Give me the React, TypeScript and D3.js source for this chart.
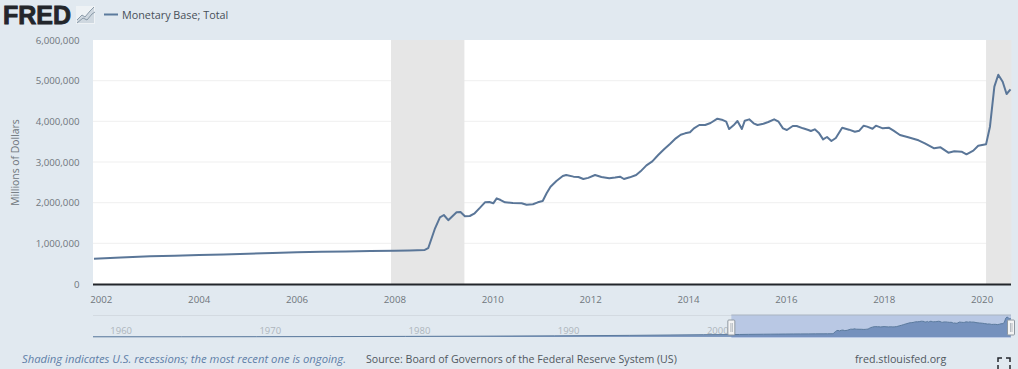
import React from "react";
import * as d3 from "d3";

const W = 1018, H = 369;
const FONT = "'Open Sans', sans-serif";

// decimal-year dates and values (millions of dollars)
const earlyDates = [1959.05, 1965, 1970, 1975, 1980, 1985, 1990, 1995, 2000];
const earlyValues = [50000, 55000, 75000, 105000, 160000, 215000, 290000, 420000, 590000];

const dates = [
  2001.85, 2002.4, 2003.0, 2003.5, 2004.0, 2004.5, 2005.0, 2005.5, 2006.0, 2006.5, 2007.0, 2007.5, 2008.0, 2008.3, 2008.61,
  2008.68, 2008.82, 2008.92, 2009.0, 2009.09, 2009.26, 2009.34, 2009.43, 2009.53, 2009.62, 2009.74, 2009.84, 2009.93, 2010.01,
  2010.08, 2010.16, 2010.25, 2010.41, 2010.59, 2010.69, 2010.82, 2010.92, 2011.02, 2011.1, 2011.18, 2011.3, 2011.43, 2011.5,
  2011.65, 2011.75, 2011.85, 2011.95, 2012.09, 2012.22, 2012.38, 2012.5, 2012.6, 2012.68, 2012.8, 2012.93, 2013.02, 2013.14,
  2013.26, 2013.38, 2013.5, 2013.62, 2013.74, 2013.84, 2013.93, 2014.03, 2014.11, 2014.22, 2014.34, 2014.45, 2014.59, 2014.68,
  2014.77, 2014.83, 2014.92, 2015.0, 2015.09, 2015.15, 2015.24, 2015.33, 2015.41, 2015.53, 2015.63, 2015.75, 2015.84, 2015.93,
  2016.01, 2016.13, 2016.21, 2016.34, 2016.45, 2016.5, 2016.58, 2016.67, 2016.75, 2016.83, 2016.92, 2017.01, 2017.14, 2017.28,
  2017.4, 2017.49, 2017.58, 2017.65, 2017.76, 2017.83, 2017.97, 2018.09, 2018.19, 2018.32, 2018.49, 2018.7, 2018.83, 2019.02,
  2019.15, 2019.31, 2019.43, 2019.58, 2019.68, 2019.82, 2019.92, 2020.08, 2020.16, 2020.25, 2020.33, 2020.42, 2020.5, 2020.58,
];
const values = [
  622000, 650000, 680000, 697000, 713000, 728000, 745000, 762000, 779000, 790000, 800000, 810000, 819000, 826000, 838000,
  880000, 1370000, 1640000, 1697000, 1570000, 1763000, 1770000, 1665000, 1672000, 1729000, 1877000, 2008000, 2016000, 1984000,
  2107000, 2065000, 2008000, 1992000, 1984000, 1950000, 1960000, 2008000, 2040000, 2230000, 2393000, 2533000, 2655000, 2680000,
  2640000, 2630000, 2582000, 2610000, 2680000, 2631000, 2600000, 2620000, 2640000, 2582000, 2623000, 2680000, 2770000, 2918000,
  3017000, 3172000, 3312000, 3443000, 3582000, 3671000, 3705000, 3730000, 3828000, 3910000, 3910000, 3959000, 4065000, 4040000,
  3991000, 3811000, 3902000, 4008000, 3811000, 4016000, 4049000, 3951000, 3910000, 3942000, 3983000, 4049000, 3991000, 3828000,
  3787000, 3885000, 3885000, 3828000, 3787000, 3762000, 3803000, 3705000, 3557000, 3615000, 3516000, 3590000, 3844000, 3795000,
  3745000, 3770000, 3893000, 3870000, 3819000, 3893000, 3828000, 3844000, 3770000, 3664000, 3607000, 3533000, 3459000, 3336000,
  3360000, 3229000, 3262000, 3254000, 3188000, 3279000, 3401000, 3434000, 3868000, 4852000, 5147000, 4975000, 4672000, 4787000,
];

const recessions: [number, number][] = [[2007.92, 2009.42], [2020.08, 2020.6]];
const yTicks = [0, 1000000, 2000000, 3000000, 4000000, 5000000, 6000000];
const xTicks = [2002, 2004, 2006, 2008, 2010, 2012, 2014, 2016, 2018, 2020];
const navTicks = [1960, 1970, 1980, 1990, 2000];

const seriesName = "Monetary Base; Total";
const yTitle = "Millions of Dollars";
const noteText = "Shading indicates U.S. recessions; the most recent one is ongoing.";
const sourceText = "Source: Board of Governors of the Federal Reserve System (US)";
const siteText = "fred.stlouisfed.org";

export default function App() {
  const left = 93, right = 1011, top = 40, bottom = 284;
  const x = d3.scaleLinear().domain([2001.83, 2020.59]).range([left, right]);
  const y = d3.scaleLinear().domain([0, 6000000]).range([bottom, top]);
  const pts = dates.map((d, i) => [d, values[i]] as [number, number]);
  const line = d3.line<[number, number]>().x(d => x(d[0])).y(d => y(d[1]));

  const navTop = 315, navBottom = 337;
  const nx = d3.scaleLinear().domain([1959.05, 2020.6]).range([left, right]);
  const ny = d3.scaleLinear().domain([0, 5147000]).range([navBottom, navTop + 2]);
  const navPts = [...earlyDates.map((d, i) => [d, earlyValues[i]] as [number, number]), ...pts];
  const navArea = d3.area<[number, number]>().x(d => nx(d[0])).y0(navBottom).y1(d => ny(d[1]));
  const navLine = d3.line<[number, number]>().x(d => nx(d[0])).y(d => ny(d[1]));
  const winL = nx(2001.85);

  const axisText = "#6f767c";
  const fmt = d3.format(",");

  return (
    <svg width={W} height={H} viewBox={`0 0 ${W} ${H}`}
      style={{ position: "absolute", left: 0, top: 0, display: "block", fontFamily: FONT }}>
      <rect width={W} height={H} fill="#e1e9f0" />

      {/* FRED logo */}
      <text x={3} y={23.5} fontFamily="'Liberation Sans', Arial, sans-serif" fontWeight={700} fontSize={25.5}
        fill="#23262b" stroke="#23262b" strokeWidth={0.9} textLength={68} lengthAdjust="spacingAndGlyphs">FRED</text>
      <g fill="none" stroke="#8a9aa8" strokeWidth={1}>
        <rect x={76} y={6} width={19} height={18} fill="#eef2f5" stroke="none" />
        <path d="M77 23 L77 20 L82 15 L85 17 L90 11 L94 7 L94 23 Z" fill="#cfd8e0" stroke="none" />
        <path d="M77 20 L82 15 L85 17 L90 11 L94 7" />
        <path d="M77 23 L83 18 L87 20 L92 14 L95 12" />
      </g>

      {/* legend */}
      <line x1={104} x2={118} y1={14.5} y2={14.5} stroke="#5b7a9d" strokeWidth={2} />
      <text x={122} y={18.5} fontSize={10.8} fill="#474f58">{seriesName}</text>

      {/* plot */}
      <rect x={left} y={top} width={right - left} height={bottom - top} fill="#ffffff" />
      {recessions.map((r, i) => (
        <rect key={i} x={x(r[0])} y={top} width={x(r[1]) - x(r[0])} height={bottom - top} fill="#e6e6e6" />
      ))}
      {yTicks.slice(1, -1).map(t => (
        <line key={t} x1={left} x2={right} y1={y(t)} y2={y(t)} stroke="#e6e6e6" strokeWidth={1} opacity={0.6} />
      ))}
      <path d={line(pts) ?? ""} fill="none" stroke="#5a7698" strokeWidth={2} strokeLinejoin="round" />
      <line x1={left} x2={right} y1={bottom + 0.5} y2={bottom + 0.5} stroke="#23262b" strokeWidth={2} />

      {/* axes */}
      {yTicks.map(t => (
        <text key={t} x={79.5} y={y(t) + 3.5} textAnchor="end" fontSize={9.7} fill={axisText}>{fmt(t)}</text>
      ))}
      {xTicks.map(t => (
        <text key={t} x={x(t)} y={302.5} textAnchor="middle" fontSize={9.7} fill={axisText}>{t}</text>
      ))}
      <text transform="translate(19,162.5) rotate(-90)" textAnchor="middle" fontSize={10.4} fill={axisText}>{yTitle}</text>

      {/* navigator */}
      <line x1={left} x2={right} y1={315.5} y2={315.5} stroke="#d3dae1" strokeWidth={1} />
      {navTicks.map(t => (
        <text key={t} x={nx(t) + 14} y={333.5} textAnchor="middle" fontSize={9.5} fill="#adb5bc">{t}</text>
      ))}
      <rect x={winL} y={navTop} width={right - winL} height={navBottom - navTop + 1} fill="#b9c8e4" />
      <path d={navArea(navPts) ?? ""} fill="#5f7fb0" opacity={0.75} />
      <path d={navLine(navPts) ?? ""} fill="none" stroke="#5b7a9d" strokeWidth={1} />
      <line x1={winL} x2={right} y1={navTop} y2={navTop} stroke="#a9b3c0" strokeWidth={1} />
      {[winL, right].map((hx, i) => (
        <g key={i}>
          <rect x={hx - 3.5} y={320} width={7} height={15} rx={1} fill="#f4f4f4" stroke="#8f98a0" strokeWidth={1} />
          <line x1={hx - 0.5} x2={hx - 0.5} y1={323} y2={332} stroke="#9aa2aa" strokeWidth={0.7} />
          <line x1={hx + 1} x2={hx + 1} y1={323} y2={332} stroke="#9aa2aa" strokeWidth={0.7} />
        </g>
      ))}

      {/* footer */}
      <text x={22} y={363} fontSize={11.25} fontStyle="italic" fill="#5f7fa8">{noteText}</text>
      <text x={366} y={363} fontSize={10.6} fill="#50585f">{sourceText}</text>
      <text x={855} y={363} fontSize={10.7} fill="#50585f">{siteText}</text>

      {/* fullscreen icon */}
      <path d="M998 362 V358 H1002 M1006 358 H1010 V362 M998 365 V369 M1010 365 V369" fill="none" stroke="#23262b" strokeWidth={1.5} />
    </svg>
  );
}
